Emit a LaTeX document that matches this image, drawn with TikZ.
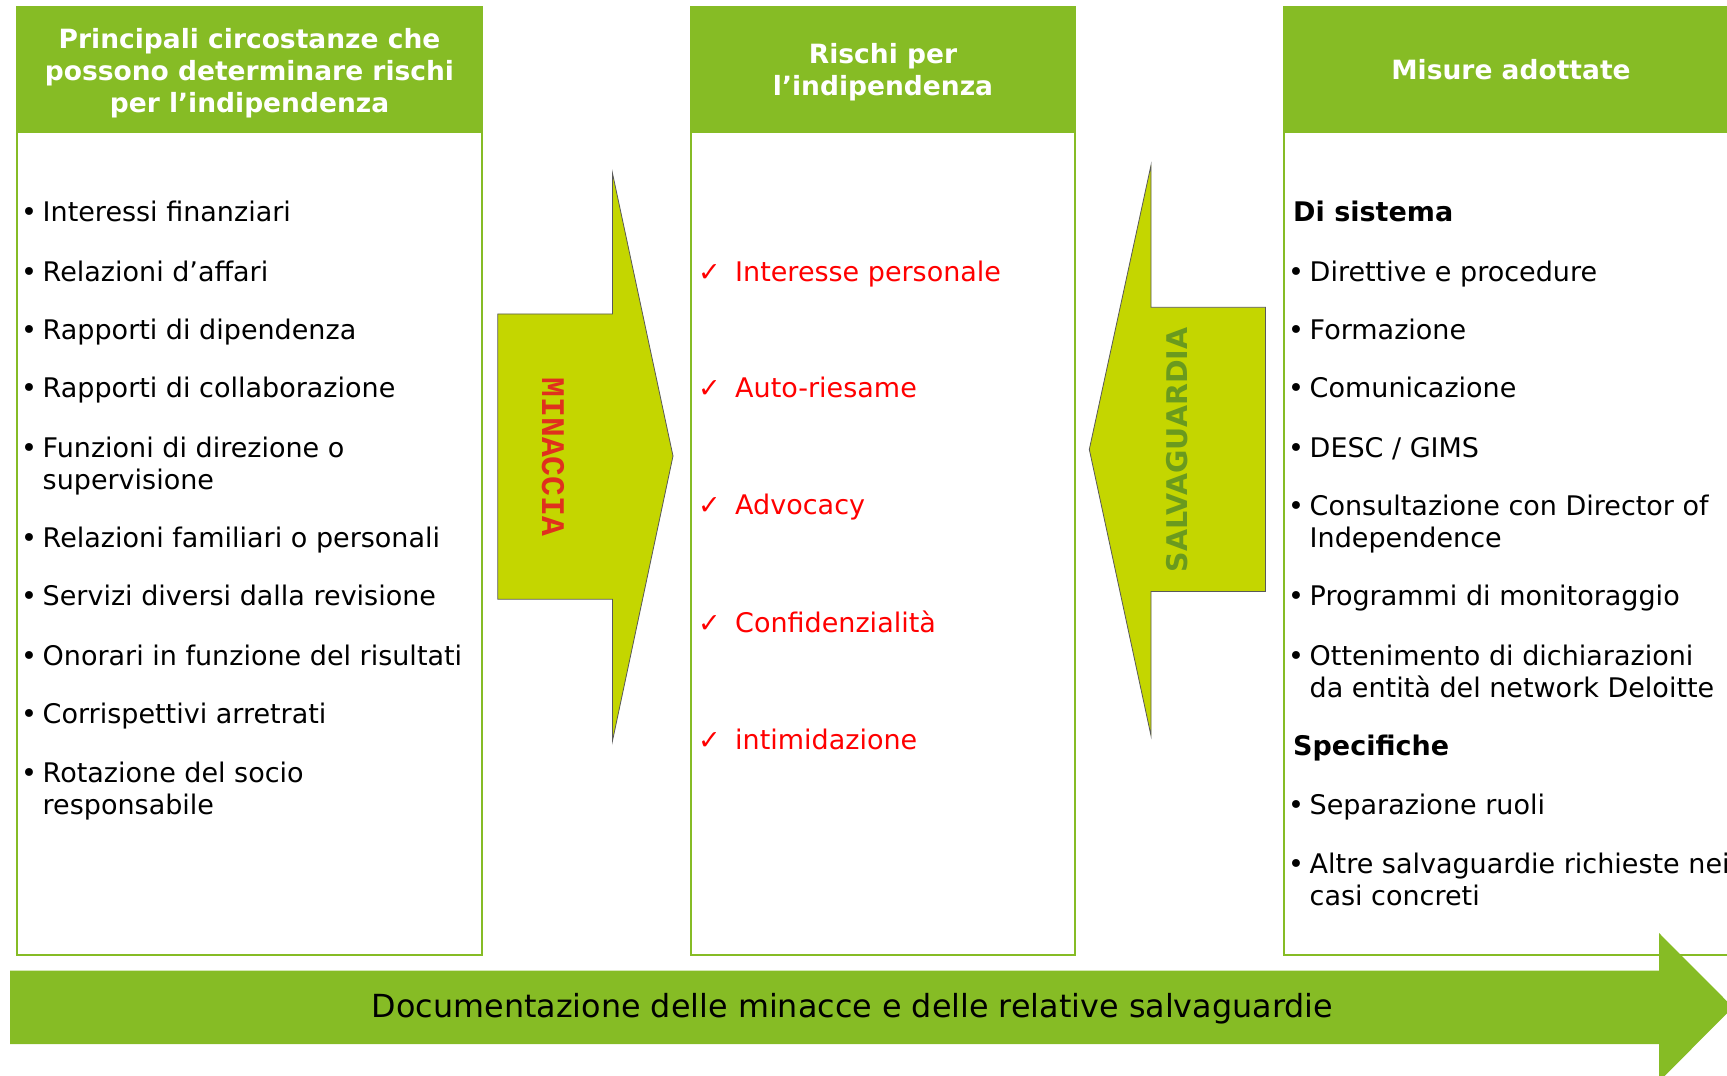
\documentclass[tikz,border=0pt]{standalone}
\usepackage{fontspec}
\setmainfont{DejaVu Sans}
\newfontfamily\monob{Liberation Mono}
\definecolor{dgreen}{HTML}{86BC25}
\definecolor{lgreen}{HTML}{C4D600}
\definecolor{sgreen}{HTML}{6A9A1E}
\definecolor{mred}{HTML}{E0301E}
\begin{document}
\begin{tikzpicture}[x=1pt,y=-1pt,
  body/.style={anchor=base west, inner sep=0pt, font=\fontsize{27}{32}\selectfont, text=black},
  bodyb/.style={body, font=\bfseries\fontsize{27}{32}\selectfont},
  bul/.style={anchor=base west, inner sep=0pt, font=\fontsize{27}{32}\selectfont, text=black},
  risk/.style={anchor=base west, inner sep=0pt, font=\fontsize{27}{32}\selectfont, text=red},
  head/.style={align=center, text=white, font=\bfseries\fontsize{26.5}{32}\selectfont, inner sep=0pt},
  colbox/.style={draw=dgreen, line width=2.5pt, fill=white},
  headbox/.style={fill=dgreen, draw=dgreen, line width=2.5pt},
  bigarrow/.style={fill=lgreen, draw=black!65, line width=0.8pt, line join=miter}
]
\useasboundingbox (0,0) rectangle (1727,1076);
\clip (0,0) rectangle (1727,1076);

% column boxes
\draw[colbox] (17,7) rectangle (482,955);
\draw[headbox] (17,7) rectangle (482,132);
\draw[colbox] (691,7) rectangle (1075,955);
\draw[headbox] (691,7) rectangle (1075,132);
\draw[colbox] (1284,7) rectangle (1738,955);
\draw[headbox] (1284,7) rectangle (1738,132);

% headers
\node[head] (h1) at (249.5,73) {Principali circostanze che\\possono determinare rischi\\per l’indipendenza};
\node[head] (h2) at (883,72) {Rischi per\\l’indipendenza};
\node[head] (h3) at (1511,69.5) {Misure adottate};

% left column
\node[bul] (lb1) at (21,221.5) {•}; \node[body] (l1) at (42.5,221.5) {Interessi finanziari};
\node[bul] (lb2) at (21,281) {•}; \node[body] (l2) at (42.5,281) {Relazioni d’affari};
\node[bul] (lb3) at (21,339.3) {•}; \node[body] (l3) at (42.5,339.3) {Rapporti di dipendenza};
\node[bul] (lb4) at (21,397.7) {•}; \node[body] (l4) at (42.5,397.7) {Rapporti di collaborazione};
\node[bul] (lb5) at (21,457.2) {•}; \node[body] (l5) at (42.5,457.2) {Funzioni di direzione o};
\node[body] (l5b) at (42.5,489.1) {supervisione};
\node[bul] (lb6) at (21,547.5) {•}; \node[body] (l6) at (42.5,547.5) {Relazioni familiari o personali};
\node[bul] (lb7) at (21,605.9) {•}; \node[body] (l7) at (42.5,605.9) {Servizi diversi dalla revisione};
\node[bul] (lb8) at (21,665.3) {•}; \node[body] (l8) at (42.5,665.3) {Onorari in funzione del risultati};
\node[bul] (lb9) at (21,723.7) {•}; \node[body] (l9) at (42.5,723.7) {Corrispettivi arretrati};
\node[bul] (lb10) at (21,782.1) {•}; \node[body] (l10) at (42.5,782.1) {Rotazione del socio};
\node[body] (l10b) at (42.5,814) {responsabile};

% middle column
\node[risk] (c1) at (698,281) {✓}; \node[risk] (m1) at (735,281) {Interesse personale};
\node[risk] (c2) at (698,397.7) {✓}; \node[risk] (m2) at (735,397.7) {Auto-riesame};
\node[risk] (c3) at (698,514.5) {✓}; \node[risk] (m3) at (735,514.5) {Advocacy};
\node[risk] (c4) at (698,632.3) {✓}; \node[risk] (m4) at (735,632.3) {Confidenzialità};
\node[risk] (c5) at (698,749) {✓}; \node[risk] (m5) at (735,749) {intimidazione};

% right column
\node[bodyb] (rh1) at (1293,221.5) {Di sistema};
\node[bul] (rb1) at (1288,281) {•}; \node[body] (r1) at (1309.5,281) {Direttive e procedure};
\node[bul] (rb2) at (1288,339.3) {•}; \node[body] (r2) at (1309.5,339.3) {Formazione};
\node[bul] (rb3) at (1288,397.7) {•}; \node[body] (r3) at (1309.5,397.7) {Comunicazione};
\node[bul] (rb4) at (1288,457.2) {•}; \node[body] (r4) at (1309.5,457.2) {DESC / GIMS};
\node[bul] (rb5) at (1288,515.5) {•}; \node[body] (r5) at (1309.5,515.5) {Consultazione con Director of};
\node[body] (r5b) at (1309.5,547.5) {Independence};
\node[bul] (rb6) at (1288,605.9) {•}; \node[body] (r6) at (1309.5,605.9) {Programmi di monitoraggio};
\node[bul] (rb7) at (1288,665.3) {•}; \node[body] (r7) at (1309.5,665.3) {Ottenimento di dichiarazioni};
\node[body] (r7b) at (1309.5,697.3) {da entità del network Deloitte};
\node[bodyb] (rh2) at (1293,755.6) {Specifiche};
\node[bul] (rb8) at (1288,814) {•}; \node[body] (r8) at (1309.5,814) {Separazione ruoli};
\node[bul] (rb9) at (1288,873.5) {•}; \node[body] (r9) at (1309.5,873.5) {Altre salvaguardie richieste nei};
\node[body] (r9b) at (1309.5,905.4) {casi concreti};

% MINACCIA arrow
\draw[bigarrow] (497.8,313.9) -- (612.4,313.9) -- (612.4,172.9) -- (673,456) -- (612.4,741.2) -- (612.4,599.2) -- (497.8,599.2) -- cycle;
\node[rotate=-90, text=mred, inner sep=0pt, font=\monob\bfseries\fontsize{33}{33}\selectfont] (minaccia) at (553,457) {MINACCIA};

% SALVAGUARDIA arrow
\draw[bigarrow] (1265.5,307.3) -- (1151,307.3) -- (1151,165.2) -- (1089.3,449.4) -- (1151,735.7) -- (1151,591.5) -- (1265.5,591.5) -- cycle;
\node[rotate=90, text=sgreen, inner sep=0pt, font=\bfseries\fontsize{28.5}{28.5}\selectfont] (salv) at (1177.4,450) {SALVAGUARDIA};

% bottom arrow
\fill[dgreen] (10,970.7) -- (1659,970.7) -- (1659,933) -- (1733,1007.3) -- (1659,1081.6) -- (1659,1044) -- (10,1044) -- cycle;
\node[anchor=base, inner sep=0pt, font=\fontsize{31.8}{36}\selectfont, text=black] (doc) at (852.5,1017.3) {Documentazione delle minacce e delle relative salvaguardie};
\end{tikzpicture}
\end{document}
